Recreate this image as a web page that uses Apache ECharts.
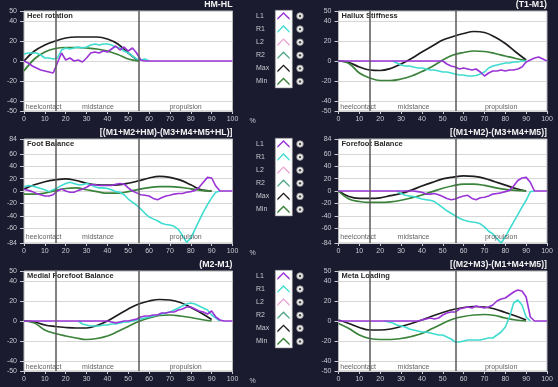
<!DOCTYPE html>
<html>
<head>
<meta charset="utf-8">
<script src="https://cdn.jsdelivr.net/npm/echarts@6/dist/echarts.min.js"></script>
<style>
  html, body { margin: 0; padding: 0; background: #1b1b30; }
  #chart { width: 558px; height: 387px; }
</style>
</head>
<body>
<div id="chart"></div>
<script>
// ---- x grids (% of stance phase) ----
const pct2 = [0,2,4,6,8,10,12,14,16,18,20,22,24,26,28,30,32,34,36,38,40,42,44,46,48,50,
              52,54,56,58,60,62,64,66,68,70,72,74,76,78,80,82,84,86,88,90,92,94,96,98,100];
const pct5 = [0,5,10,15,20,25,30,35,40,45,50,55,60,65,70,75,80,85,90,95,100];
const _ = null;

// ---- tick labels ----
const yTicks50 = [-50,-40,-20,0,20,40,50];
const yTicks84 = [-84,-60,-40,-20,0,20,40,60,84];
const legendNames = ['L1','R1','L2','R2','Max','Min'];
const phaseNames = ['heelcontact','midstance','propulsion'];

// ---- Heel rotation (HM-HL) ----
const heelL1 = [0,-2,-5,-7,-9,-10,-11,-12,-2,8,1,3,0,1,-1,3,8,9,8,10,9,12,15,11,14,10,13,8,1,0,0,
                0,0,0,0,0,0,0,0,0,0,0,0,0,0,0,0,0,0,0,0];
const heelR1 = [7,8,8,8,6,3,3,2,3,11,13,12,13,14,13,14,16,17,16,17,17,16,14,13,10,8,5,2,1,2,0,
                _,_,_,_,_,_,_,_,_,_,_,_,_,_,_,_,_,_,_,_];
const heelMax = [0,10,16,20,23,24,24,24,22,17,8,0,_,_,_,_,_,_,_,_,_];
const heelMin = [-10,2,9,12.5,13.5,13.5,13,12,10,6.5,2,0,_,_,_,_,_,_,_,_,_];

// ---- Hallux Stiffness (T1-M1) ----
const halluxL1 = [0,0,0,0,0,0,0,0,0,0,0,0,0,0,0,0,0,0,0,0,0,0,0,0,0,0,
                  -3,-5,-6,-8,-7,-8,-9,-8,-11,-15,-12,-10,-10,-9,-10,-9,-9,-8,-6,-1,1,3,4,2,0];
const halluxR1 = [_,_,_,_,_,_,_,_,_,_,_,_,_,
                  0,-2,-4,-5,-5,-6,-7,-7,-8,-9,-9,-10,-11,-11,-12,-13,-14,-14,-15,-15,-14.5,-13,-11,-7,
                  -5,-4,-3,-2,-2,-1,-1,0,0,_,_,_,_,_];
const halluxMax = [0,-1.5,-6,-9,-9.5,-7.5,-3,2.5,9,15,21,24.5,27.5,29.5,28.5,24,17.5,9,1,_,_];
const halluxMin = [0,-2.5,-12,-17,-19.5,-19.5,-18,-15,-10.5,-5.5,1,6,8.5,10,9.5,7.5,5,2.5,0.3,_,_];

// ---- Foot Balance [(M1+M2+HM)-(M3+M4+M5+HL)] ----
const footL1 = [3,1,-1,-4,-6,-8,-8,-6,0,3,0,-2,-2,1,3,6,10,10,9,9,9,9,11,12,11,5,0,-3,-6,-7,
                -8,-12,-14,-11,-8,-7,-5,-4,-4,-2,-1,1,6,14,22,21,8,0,0,0,0];
const footR1 = [7,9,8,6,4,2,-1,2,5,9,12,14,12,10,10,12,10,7,5,5,4,2,-1,-2,-6,-13,-18,-23,-29,-36,
                -42,-45,-48,-52,-54,-55,-57,-62,-72,-83,-76,-62,-48,-34,-22,-11,-2,0,_,_,_];
const footMax = [3,10,15,18,19.5,17,12.5,10,9.5,10,12.5,16.5,21,23.5,22,17.5,10,2,0,_,_];
const footMin = [-5,-5,-3.5,0.5,4,5,2,-1,-3.5,-3.5,-1,2.5,5.5,7,7,6,3.5,1,0,_,_];

// ---- Forefoot Balance [(M1+M2)-(M3+M4+M5)] ----
const forefootL1 = [0,0,0,0,0,0,0,0,0,0,0,0,0,0,0,0,0,0,0,
                    -1,-2,-5,-5,-4,-6,-9,-12,-14,-13,-10,-8,-7,-12,-14,-11,-10,-8,-5,-4,-3,-1,1,8,17,21,22,14,0,0,0,0];
const forefootR1 = [_,_,_,_,_,_,_,_,_,_,_,_,_,_,
                    0,-4,-7,-8,-9,-11,-13,-14,-15,-17,-22,-27,-32,-36,-40,-44,-47,-49,-50,-51,-53,-58,-65,-69,-77,-84,
                    -74,-62,-50,-38,-26,-15,-1,0,_,_,_];
const forefootMax = [0,-9,-12,-12,-11,-7.5,-4,1.5,8,14,19.5,22.5,24.5,23.5,20.5,15,9.5,4,0,_,_];
const forefootMin = [0,-13,-17,-18.5,-18.5,-17.5,-15,-11,-6.5,-1,4.5,8.5,11,11,9,5.5,2.5,1,0,_,_];

// ---- Medial Forefoot Balance (M2-M1) ----
const medialL1 = [0,0,0,0,0,0,0,0,0,0,0,0,0,0,0,0,0,0,0,0,0,
                  -1,-2,-1,0,0,1,2,4,5,5,6,6,8,8,9,9,11,12,14,14,12,10,9,7,10,4,1,0,0,0];
const medialR1 = [_,_,_,_,_,_,_,_,_,_,_,_,_,
                  0,-3,-4,-5,-5,-5,-4,-4,-3,-3,-2,-1,-1,0,1,2,3,4,5,6,7,8,9,11,13,15,17,18,17,15,13,11,6,3,0,
                  _,_,_];
const medialMax = [0,-1,-4,-5.5,-6.5,-7,-7,-4.5,0,6,12,17,20,21.5,21,18.5,13.5,8,1.5,_,_];
const medialMin = [0,-2,-9,-12.5,-15,-17,-18.5,-17.5,-15,-10.5,-5.5,-0.5,3,5.5,6,5,3.5,1.5,0,_,_];

// ---- Meta Loading [(M2+M3)-(M1+M4+M5)] ----
const metaL1 = [0,0,0,0,0,0,0,0,0,0,0,0,0,0,0,0,0,0,0,0,
                1,2,3,2,3,6,8,9,9,12,13,14,13,15,14,13,14,16,20,22,23,26,29,31,30,24,4,0,0,0,0];
const metaR1 = [_,_,_,_,_,_,_,_,_,_,_,
                0,-1,-2,-4,-5,-6,-8,-9,-10,-11,-11,-12,-13,-14,-14,-16,-18,-21,-21,-20,-19,-19,-19,-19,
                -18,-17,-17,-14,-11,-6,4,18,21,16,4,0,_,_,_,_];
const metaMax = [1,-2.5,-6.5,-9,-9,-8,-5.5,-2.5,1,5,8.5,11.5,13.5,14.5,14,12,8.5,5,1,_,_];
const metaMin = [-2.5,-7.5,-14,-17.5,-18.5,-18.5,-17.5,-15.5,-12.5,-7.5,-2.5,2,4.5,6,6.5,5.5,3,1,0,_,_];

// ---- panels: data + layout ----
const panels = [
  { name: 'Heel rotation', formula: 'HM-HL', L1: heelL1, R1: heelR1, Max: heelMax, Min: heelMin,
    ticks: yTicks50, phases: [15, 55], left: 24, top: 11, height: 100, unit: '%' },
  { name: 'Hallux Stiffness', formula: '(T1-M1)', L1: halluxL1, R1: halluxR1, Max: halluxMax, Min: halluxMin,
    ticks: yTicks50, phases: [15, 56], left: 338.5, top: 11, height: 100, unit: '' },
  { name: 'Foot Balance', formula: '[(M1+M2+HM)-(M3+M4+M5+HL)]', L1: footL1, R1: footR1, Max: footMax, Min: footMin,
    ticks: yTicks84, phases: [15, 55], left: 24, top: 139, height: 104, unit: '%' },
  { name: 'Forefoot Balance', formula: '[(M1+M2)-(M3+M4+M5)]', L1: forefootL1, R1: forefootR1, Max: forefootMax, Min: forefootMin,
    ticks: yTicks84, phases: [15, 56], left: 338.5, top: 139, height: 104, unit: '' },
  { name: 'Medial Forefoot Balance', formula: '(M2-M1)', L1: medialL1, R1: medialR1, Max: medialMax, Min: medialMin,
    ticks: yTicks50, phases: [15, 55], left: 24, top: 271, height: 100, unit: '%' },
  { name: 'Meta Loading', formula: '[(M2+M3)-(M1+M4+M5)]', L1: metaL1, R1: metaR1, Max: metaMax, Min: metaMin,
    ticks: yTicks50, phases: [15, 56], left: 338.5, top: 271, height: 100, unit: '' }
];
const plotWidth = 208.5;

const colors = { L1: '#9a34d6', R1: '#3fdcd0', L2: '#eaa4d4', R2: '#4fa486', Max: '#1e1e1e', Min: '#3b823b' };
const FONT = 'Liberation Sans';
const axisText = '#c9c9d2';

const pairs = (xs, ys) => xs.map((x, k) => [x, ys[k]]);

const grid = [], xAxis = [], yAxis = [], series = [], title = [];

panels.forEach((p, i) => {
  const lim = p.ticks[p.ticks.length - 1];
  grid.push({ left: p.left, top: p.top, width: plotWidth, height: p.height,
    show: true, backgroundColor: '#ffffff', borderColor: '#b8b8b8', borderWidth: 1, z: 0 });
  xAxis.push({ gridIndex: i, type: 'value', min: 0, max: 100, interval: 10, position: 'bottom',
    name: p.unit, nameLocation: 'end', nameGap: 17,
    nameTextStyle: { color: axisText, fontSize: 7, fontFamily: FONT, verticalAlign: 'top', padding: [7, 0, 0, 0] },
    axisLine: { show: false, onZero: false },
    axisTick: { show: true, length: 3, lineStyle: { color: axisText } },
    axisLabel: { color: axisText, fontSize: 7, fontFamily: FONT, margin: 5 },
    splitLine: { show: false } });
  yAxis.push({ gridIndex: i, type: 'value', min: -lim, max: lim,
    axisLine: { show: false, onZero: false },
    axisTick: { show: true, length: 4, customValues: p.ticks, lineStyle: { color: axisText } },
    axisLabel: { customValues: p.ticks, color: axisText, fontSize: 7, fontFamily: FONT, margin: 7 },
    splitLine: { show: true, lineStyle: { color: '#d6d6d6', width: 1 } } });

  const common = { xAxisIndex: i, yAxisIndex: i, symbol: 'none', showSymbol: false, silent: true };
  series.push({ ...common, type: 'line', name: 'Max', data: pairs(pct5, p.Max), smooth: 0.4,
    lineStyle: { color: colors.Max, width: 1.7 }, itemStyle: { color: colors.Max } });
  series.push({ ...common, type: 'line', name: 'Min', data: pairs(pct5, p.Min), smooth: 0.4,
    lineStyle: { color: colors.Min, width: 1.7 }, itemStyle: { color: colors.Min } });
  series.push({ ...common, type: 'line', name: 'L2', data: [],
    lineStyle: { color: colors.L2, width: 1.5 }, itemStyle: { color: colors.L2 } });
  series.push({ ...common, type: 'line', name: 'R2', data: [],
    lineStyle: { color: colors.R2, width: 1.5 }, itemStyle: { color: colors.R2 } });
  series.push({ ...common, type: 'line', name: 'R1', data: pairs(pct2, p.R1),
    lineStyle: { color: colors.R1, width: 1.6 }, itemStyle: { color: colors.R1 } });
  series.push({ ...common, type: 'line', name: 'L1', data: pairs(pct2, p.L1),
    lineStyle: { color: colors.L1, width: 1.6 }, itemStyle: { color: colors.L1 } });

  // phase names along the bottom strip and phase boundary lines
  const [b1, b2] = p.phases;
  const labelY = -lim + (lim === 50 ? 4 : 9);
  series.push({ xAxisIndex: i, yAxisIndex: i, type: 'scatter', name: 'phase', silent: true,
    symbolSize: 1, itemStyle: { color: 'rgba(0,0,0,0)' }, z: 3,
    label: { show: true, formatter: '{b}', color: '#3a3a3a', fontSize: 7, fontFamily: FONT, position: 'inside' },
    data: [
      { name: phaseNames[0], value: [0.6, labelY], label: { position: 'right', distance: 0 } },
      { name: phaseNames[1], value: [(b1 + b2) / 2 + 0.5, labelY] },
      { name: phaseNames[2], value: [(b2 + 100) / 2, labelY] }
    ],
    markLine: { symbol: 'none', silent: true, label: { show: false },
      lineStyle: { color: '#595959', width: 1.5, type: 'solid' },
      data: [{ xAxis: b1 }, { xAxis: b2 }] } });

  title.push({ text: p.name, left: p.left + 3, top: p.top + 1, z: 1,
    textStyle: { color: '#2a2a2a', fontSize: 7.5, fontWeight: 'bold', fontFamily: FONT }, padding: 0 });
  title.push({ text: p.formula, right: 558 - (p.left + plotWidth), top: p.top - 10.5, z: 1,
    textStyle: { color: '#f2f2f2', fontSize: 8.8, fontWeight: 'bold', fontFamily: FONT }, padding: 0 });
});

// legends between the chart columns, one per row
const rowTops = [11, 139, 271];
const legendRowStep = 13.1;
const legendIcon = 'path://M0,9 L8,1 L16,9 L16,11.5 L8,3.5 L0,11.5 Z';
const legend = rowTops.map(t => ({
  orient: 'vertical', left: 256, top: t + 1, padding: 0,
  itemWidth: 13, itemHeight: 8, itemGap: legendRowStep - 8, align: 'right',
  icon: legendIcon, data: legendNames, selectedMode: false,
  formatter: n => '{t|' + n + '}',
  textStyle: { color: axisText, fontSize: 7, fontFamily: FONT,
    rich: { t: { width: 16, align: 'left', lineHeight: 8, fontSize: 7, color: axisText, fontFamily: FONT } } }
}));

// icon background boxes and radio buttons next to each legend entry
const graphic = [];
rowTops.forEach(t => {
  graphic.push({ type: 'rect', left: 275, top: t - 1, z: -1,
    shape: { width: 17, height: legendRowStep * 6 - 1 },
    style: { fill: '#ffffff', stroke: '#9a9a9a', lineWidth: 0.6 } });
  legendNames.forEach((n, k) => {
    const cy = t + 1 + 4 + k * legendRowStep;
    graphic.push({ type: 'circle', shape: { cx: 300, cy: cy, r: 3.3 },
      style: { fill: '#ececec', stroke: '#8c8c8c', lineWidth: 0.8 } });
    graphic.push({ type: 'circle', shape: { cx: 300, cy: cy, r: 1.2 },
      style: { fill: '#4a4a4a' } });
  });
});

const chart = echarts.init(document.getElementById('chart'), null, { renderer: 'canvas' });
chart.setOption({
  backgroundColor: '#1b1b30',
  animation: false,
  color: legendNames.map(n => colors[n]),
  title, legend, grid, xAxis, yAxis, series, graphic
});
</script>
</body>
</html>
